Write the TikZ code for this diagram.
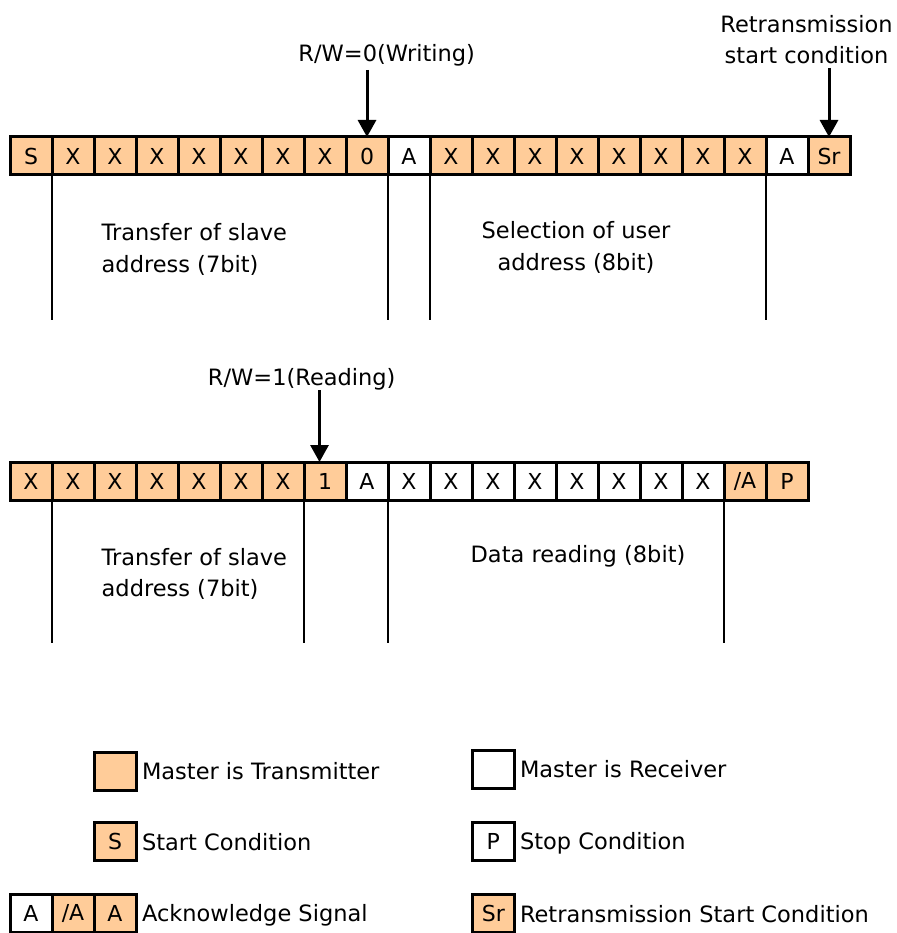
\documentclass[tikz,border=0pt]{standalone}
\usepackage{fontspec}
\setmainfont{DejaVu Sans}
\usetikzlibrary{arrows.meta}
\definecolor{txorange}{RGB}{255,204,153}
\newcommand\nack{/A}
\tikzset{
  bitcell/.style={draw=black, line width=3pt, minimum width=42pt, minimum height=38pt,
    inner sep=0pt, outer sep=0pt, font=\fontsize{22}{26}\selectfont},
  tx/.style={bitcell, fill=txorange, anchor=north west},
  rx/.style={bitcell, fill=white, anchor=north west},
  keybox/.style={bitcell},
  lbl/.style={font=\fontsize{22.5}{31.5}\selectfont, inner sep=0pt, outer sep=0pt},
  guide/.style={line width=2pt},
  pointer/.style={line width=3pt, -{Triangle[length=17pt,width=18pt]}},
}
\begin{document}
\begin{tikzpicture}[x=1pt,y=-1pt]
\useasboundingbox (0,0) rectangle (896,933);

% ---- write phase: slave address, R/W=0, user address, repeated start
\foreach \s/\t [count=\i from 0] in {tx/S,tx/X,tx/X,tx/X,tx/X,tx/X,tx/X,tx/X,tx/0,rx/A,
    tx/X,tx/X,tx/X,tx/X,tx/X,tx/X,tx/X,tx/X,rx/A,tx/Sr}
  \node[\s] (a\i) at ({10+42*\i},137) {\t};

\foreach \c in {1,9,10,18}
  \draw[guide] (a\c.south west) -- ++(0,145);

\node[lbl, anchor=base] (rw0) at (386.7,61.7) {R/W=0(Writing)};
\coordinate (rw0tail) at (367,70);
\draw[pointer] (rw0tail) -- (a8.north);

\node[lbl, align=center, anchor=north] (rsc) at (806.5,15) {Retransmission\\start condition};
\coordinate (rsctail) at (829,68);
\draw[pointer] (rsctail) -- (a19.north);

\node[lbl, align=left, anchor=north west] (slv1) at (101.7,223.5) {Transfer of slave\\address (7bit)};
\node[lbl, align=center, anchor=north] (usr) at (576,221.5) {Selection of user\\address (8bit)};

% ---- read phase: slave address, R/W=1, data byte, NACK, stop
\foreach \s/\t [count=\i from 0] in {tx/X,tx/X,tx/X,tx/X,tx/X,tx/X,tx/X,tx/1,rx/A,
    rx/X,rx/X,rx/X,rx/X,rx/X,rx/X,rx/X,rx/X,tx/\nack,tx/P}
  \node[\s] (b\i) at ({10+42*\i},462) {\t};

\foreach \c in {1,7,9,17}
  \draw[guide] (b\c.south west) -- ++(0,143);

\node[lbl, anchor=base] (rw1) at (301.7,385) {R/W=1(Reading)};
\coordinate (rw1tail) at (319.5,390);
\draw[pointer] (rw1tail) -- (b7.north -| rw1tail);

\node[lbl, align=left, anchor=north west] (slv2) at (101.7,548) {Transfer of slave\\address (7bit)};
\node[lbl, anchor=north] (dat) at (578,545.5) {Data reading (8bit)};

% ---- key
\node[keybox, fill=txorange] (kTx) at (115,771) {};
\node[lbl, anchor=base west] (kTxT) at (142,779.5) {Master is Transmitter};
\node[keybox, fill=white] (kRx) at (493.3,769) {};
\node[lbl, anchor=base west] (kRxT) at (520,777.5) {Master is Receiver};

\node[keybox, fill=txorange] (kS) at (115,841.5) {S};
\node[lbl, anchor=base west] (kST) at (142,850) {Start Condition};
\node[keybox, fill=white] (kP) at (493.3,841) {P};
\node[lbl, anchor=base west] (kPT) at (520,849.5) {Stop Condition};

\node[keybox, fill=white] (kA) at (31,913) {A};
\node[keybox, fill=txorange] (kN) at (73,913) {/A};
\node[keybox, fill=txorange] (kA2) at (115,913) {A};
\node[lbl, anchor=base west] (kAT) at (142,921.5) {Acknowledge Signal};
\node[keybox, fill=txorange] (kSr) at (493.3,913.5) {Sr};
\node[lbl, anchor=base west] (kSrT) at (520,922) {Retransmission Start Condition};
\end{tikzpicture}
\end{document}
